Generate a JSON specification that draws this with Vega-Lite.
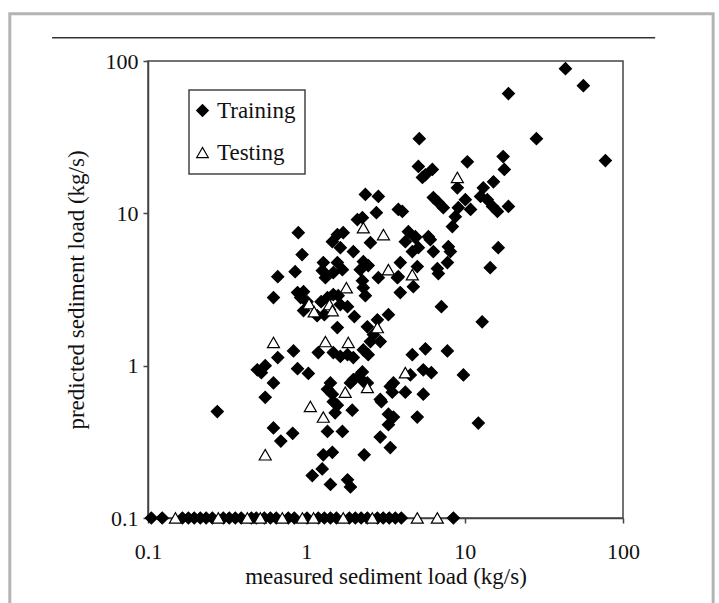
{
  "$schema": "https://vega.github.io/schema/vega-lite/v6.json",
  "autosize": {"type": "none"},
  "width": 475,
  "height": 457,
  "padding": {"left": 148, "top": 61, "right": 96, "bottom": 85},
  "background": "white",
  "config": {
    "view": {"stroke": "#444", "strokeWidth": 1.5},
    "font": "Liberation Serif",
    "axis": {
      "grid": false, "domainColor": "#444", "domainWidth": 1.5, "tickColor": "#444", "tickWidth": 1.5,
      "labelFont": "Liberation Serif", "titleFont": "Liberation Serif", "labelColor": "#111", "titleColor": "#111",
      "labelFontSize": 22, "titleFontSize": 23, "titleFontWeight": "normal"
    },
    "legend": {
      "strokeColor": "#444", "strokeWidth": 1.5, "fillColor": "white", "padding": 9, "rowPadding": 18,
      "labelFont": "Liberation Serif", "labelFontSize": 23, "labelColor": "#111", "labelOffset": 3,
      "symbolOffset": -7,
      "symbolSize": 135, "symbolStrokeColor": "black", "symbolStrokeWidth": 1.2, "symbolOpacity": 1
    }
  },
  "data": {"values": [
    {"x":43.3,"y":89.1,"s":"Training"},{"x":56.2,"y":68.9,"s":"Training"},{"x":18.9,"y":61.1,"s":"Training"},
    {"x":5.17,"y":30.9,"s":"Training"},{"x":28.4,"y":30.9,"s":"Training"},{"x":77.4,"y":22.2,"s":"Training"},
    {"x":10.4,"y":21.8,"s":"Training"},{"x":17.5,"y":23.6,"s":"Training"},{"x":17.8,"y":19.4,"s":"Training"},
    {"x":5.10,"y":20.3,"s":"Training"},{"x":5.65,"y":17.9,"s":"Training"},{"x":6.25,"y":19.4,"s":"Training"},
    {"x":5.41,"y":17.2,"s":"Training"},{"x":8.99,"y":14.7,"s":"Training"},{"x":15.2,"y":16.1,"s":"Training"},
    {"x":13.1,"y":14.7,"s":"Training"},{"x":12.6,"y":12.9,"s":"Training"},{"x":13.9,"y":12.3,"s":"Training"},
    {"x":15.0,"y":11.1,"s":"Training"},{"x":16.1,"y":10.3,"s":"Training"},{"x":18.9,"y":11.1,"s":"Training"},
    {"x":6.34,"y":12.7,"s":"Training"},{"x":6.82,"y":11.8,"s":"Training"},{"x":7.33,"y":10.9,"s":"Training"},
    {"x":10.1,"y":12.3,"s":"Training"},{"x":10.9,"y":10.6,"s":"Training"},{"x":9.12,"y":10.9,"s":"Training"},
    {"x":8.73,"y":9.51,"s":"Training"},{"x":8.36,"y":8.18,"s":"Training"},{"x":4.04,"y":10.3,"s":"Training"},
    {"x":4.41,"y":7.58,"s":"Training"},{"x":4.88,"y":7.03,"s":"Training"},{"x":5.90,"y":7.03,"s":"Training"},
    {"x":2.85,"y":12.9,"s":"Training"},{"x":2.77,"y":10.1,"s":"Training"},{"x":3.81,"y":10.6,"s":"Training"},
    {"x":2.36,"y":13.3,"s":"Training"},{"x":2.10,"y":9.10,"s":"Training"},{"x":2.26,"y":9.37,"s":"Training"},
    {"x":0.89,"y":7.47,"s":"Training"},{"x":1.57,"y":7.25,"s":"Training"},{"x":1.71,"y":7.47,"s":"Training"},
    {"x":1.46,"y":6.52,"s":"Training"},{"x":1.64,"y":5.95,"s":"Training"},{"x":2.54,"y":6.42,"s":"Training"},
    {"x":0.94,"y":5.36,"s":"Training"},{"x":1.98,"y":5.61,"s":"Training"},{"x":2.29,"y":4.82,"s":"Training"},
    {"x":2.46,"y":4.54,"s":"Training"},{"x":2.19,"y":4.27,"s":"Training"},{"x":1.28,"y":4.75,"s":"Training"},
    {"x":1.26,"y":4.21,"s":"Training"},{"x":1.32,"y":3.78,"s":"Training"},{"x":1.57,"y":4.75,"s":"Training"},
    {"x":1.69,"y":4.27,"s":"Training"},{"x":1.48,"y":4.08,"s":"Training"},{"x":0.85,"y":4.14,"s":"Training"},
    {"x":0.66,"y":3.84,"s":"Training"},{"x":2.26,"y":3.61,"s":"Training"},{"x":2.29,"y":3.25,"s":"Training"},
    {"x":2.36,"y":2.88,"s":"Training"},{"x":0.62,"y":2.80,"s":"Training"},{"x":0.88,"y":3.02,"s":"Training"},
    {"x":0.96,"y":3.06,"s":"Training"},{"x":0.92,"y":2.80,"s":"Training"},{"x":1.01,"y":2.63,"s":"Training"},
    {"x":1.24,"y":2.63,"s":"Training"},{"x":1.36,"y":2.80,"s":"Training"},{"x":1.48,"y":2.93,"s":"Training"},
    {"x":1.59,"y":2.88,"s":"Training"},{"x":1.64,"y":2.52,"s":"Training"},{"x":1.82,"y":2.44,"s":"Training"},
    {"x":2.01,"y":2.10,"s":"Training"},{"x":0.96,"y":2.30,"s":"Training"},{"x":1.17,"y":2.13,"s":"Training"},
    {"x":1.30,"y":2.16,"s":"Training"},{"x":1.57,"y":1.78,"s":"Training"},{"x":2.43,"y":1.80,"s":"Training"},
    {"x":2.65,"y":1.60,"s":"Training"},{"x":2.93,"y":1.44,"s":"Training"},{"x":2.54,"y":1.44,"s":"Training"},
    {"x":3.30,"y":2.16,"s":"Training"},{"x":2.81,"y":2.00,"s":"Training"},{"x":3.76,"y":3.78,"s":"Training"},
    {"x":2.85,"y":3.78,"s":"Training"},{"x":0.83,"y":1.25,"s":"Training"},{"x":1.19,"y":1.22,"s":"Training"},
    {"x":1.64,"y":1.15,"s":"Training"},{"x":1.82,"y":1.18,"s":"Training"},{"x":1.98,"y":1.13,"s":"Training"},
    {"x":1.48,"y":1.22,"s":"Training"},{"x":0.66,"y":1.13,"s":"Training"},{"x":0.49,"y":0.94,"s":"Training"},
    {"x":0.55,"y":1.00,"s":"Training"},{"x":0.52,"y":0.90,"s":"Training"},{"x":0.88,"y":0.955,"s":"Training"},
    {"x":1.03,"y":0.89,"s":"Training"},{"x":2.26,"y":0.91,"s":"Training"},{"x":2.13,"y":0.85,"s":"Training"},
    {"x":2.29,"y":1.27,"s":"Training"},{"x":2.46,"y":1.18,"s":"Training"},
    {"x":4.22,"y":6.52,"s":"Training"},{"x":4.88,"y":6.92,"s":"Training"},{"x":4.67,"y":5.61,"s":"Training"},
    {"x":5.10,"y":5.95,"s":"Training"},{"x":6.07,"y":6.72,"s":"Training"},{"x":6.34,"y":5.61,"s":"Training"},
    {"x":7.89,"y":6.04,"s":"Training"},{"x":8.12,"y":5.61,"s":"Training"},{"x":7.78,"y":4.75,"s":"Training"},
    {"x":6.72,"y":4.34,"s":"Training"},{"x":6.82,"y":4.02,"s":"Training"},{"x":5.02,"y":4.47,"s":"Training"},
    {"x":3.92,"y":4.75,"s":"Training"},{"x":3.81,"y":3.84,"s":"Training"},{"x":3.92,"y":3.02,"s":"Training"},
    {"x":4.74,"y":3.30,"s":"Training"},{"x":16.3,"y":5.95,"s":"Training"},{"x":14.5,"y":4.40,"s":"Training"},
    {"x":7.13,"y":2.44,"s":"Training"},{"x":12.9,"y":1.94,"s":"Training"},{"x":5.65,"y":1.29,"s":"Training"},
    {"x":7.78,"y":1.25,"s":"Training"},{"x":4.67,"y":1.18,"s":"Training"},
    {"x":0.274,"y":0.50,"s":"Training"},{"x":0.62,"y":0.77,"s":"Training"},{"x":0.55,"y":0.62,"s":"Training"},
    {"x":1.42,"y":0.77,"s":"Training"},{"x":1.36,"y":0.70,"s":"Training"},{"x":1.46,"y":0.65,"s":"Training"},
    {"x":1.48,"y":0.58,"s":"Training"},{"x":1.57,"y":0.55,"s":"Training"},{"x":1.52,"y":0.49,"s":"Training"},
    {"x":1.95,"y":0.51,"s":"Training"},{"x":1.98,"y":0.81,"s":"Training"},{"x":2.29,"y":0.79,"s":"Training"},
    {"x":2.43,"y":0.77,"s":"Training"},{"x":1.90,"y":0.77,"s":"Training"},{"x":2.93,"y":0.60,"s":"Training"},
    {"x":3.39,"y":0.73,"s":"Training"},{"x":3.55,"y":0.77,"s":"Training"},{"x":3.49,"y":0.67,"s":"Training"},
    {"x":4.54,"y":0.87,"s":"Training"},{"x":4.22,"y":0.67,"s":"Training"},{"x":5.48,"y":0.94,"s":"Training"},
    {"x":6.16,"y":0.90,"s":"Training"},{"x":5.48,"y":0.65,"s":"Training"},{"x":9.82,"y":0.87,"s":"Training"},
    {"x":3.30,"y":0.48,"s":"Training"},{"x":3.55,"y":0.46,"s":"Training"},{"x":3.30,"y":0.41,"s":"Training"},
    {"x":5.02,"y":0.46,"s":"Training"},{"x":12.2,"y":0.42,"s":"Training"},{"x":2.93,"y":0.34,"s":"Training"},
    {"x":3.39,"y":0.29,"s":"Training"},{"x":0.62,"y":0.39,"s":"Training"},{"x":0.69,"y":0.32,"s":"Training"},
    {"x":0.82,"y":0.36,"s":"Training"},{"x":1.36,"y":0.37,"s":"Training"},{"x":1.69,"y":0.37,"s":"Training"},
    {"x":1.28,"y":0.26,"s":"Training"},{"x":1.46,"y":0.27,"s":"Training"},{"x":2.32,"y":0.26,"s":"Training"},
    {"x":1.26,"y":0.21,"s":"Training"},{"x":1.09,"y":0.19,"s":"Training"},{"x":1.42,"y":0.166,"s":"Training"},
    {"x":1.82,"y":0.178,"s":"Training"},{"x":1.90,"y":0.16,"s":"Training"},{"x":2.98,"y":0.58,"s":"Training"},
    {"x":0.105,"y":0.1,"s":"Training"},{"x":0.123,"y":0.1,"s":"Training"},{"x":0.165,"y":0.1,"s":"Training"},
    {"x":0.180,"y":0.1,"s":"Training"},{"x":0.196,"y":0.1,"s":"Training"},{"x":0.214,"y":0.1,"s":"Training"},
    {"x":0.233,"y":0.1,"s":"Training"},{"x":0.255,"y":0.1,"s":"Training"},{"x":0.299,"y":0.1,"s":"Training"},
    {"x":0.326,"y":0.1,"s":"Training"},{"x":0.356,"y":0.1,"s":"Training"},{"x":0.388,"y":0.1,"s":"Training"},
    {"x":0.450,"y":0.1,"s":"Training"},{"x":0.483,"y":0.1,"s":"Training"},{"x":0.543,"y":0.1,"s":"Training"},
    {"x":0.593,"y":0.1,"s":"Training"},{"x":0.646,"y":0.1,"s":"Training"},{"x":0.769,"y":0.1,"s":"Training"},
    {"x":0.840,"y":0.1,"s":"Training"},{"x":1.01,"y":0.1,"s":"Training"},{"x":1.19,"y":0.1,"s":"Training"},
    {"x":1.30,"y":0.1,"s":"Training"},{"x":1.42,"y":0.1,"s":"Training"},{"x":1.55,"y":0.1,"s":"Training"},
    {"x":1.87,"y":0.1,"s":"Training"},{"x":2.04,"y":0.1,"s":"Training"},{"x":2.22,"y":0.1,"s":"Training"},
    {"x":2.43,"y":0.1,"s":"Training"},{"x":2.81,"y":0.1,"s":"Training"},{"x":3.06,"y":0.1,"s":"Training"},
    {"x":3.34,"y":0.1,"s":"Training"},{"x":3.65,"y":0.1,"s":"Training"},{"x":3.98,"y":0.1,"s":"Training"},
    {"x":8.49,"y":0.1,"s":"Training"},
    {"x":8.99,"y":17.2,"s":"Testing"},{"x":3.07,"y":7.25,"s":"Testing"},{"x":2.29,"y":8.05,"s":"Testing"},
    {"x":1.79,"y":3.25,"s":"Testing"},{"x":1.04,"y":2.55,"s":"Testing"},{"x":1.12,"y":2.26,"s":"Testing"},
    {"x":1.40,"y":2.52,"s":"Testing"},{"x":1.46,"y":2.30,"s":"Testing"},{"x":2.81,"y":1.78,"s":"Testing"},
    {"x":3.30,"y":4.27,"s":"Testing"},{"x":0.62,"y":1.42,"s":"Testing"},{"x":1.32,"y":1.44,"s":"Testing"},
    {"x":1.84,"y":1.42,"s":"Testing"},{"x":4.67,"y":3.96,"s":"Testing"},{"x":1.06,"y":0.54,"s":"Testing"},
    {"x":1.28,"y":0.46,"s":"Testing"},{"x":1.76,"y":0.67,"s":"Testing"},{"x":2.43,"y":0.72,"s":"Testing"},
    {"x":4.22,"y":0.90,"s":"Testing"},{"x":0.55,"y":0.26,"s":"Testing"},
    {"x":0.149,"y":0.1,"s":"Testing"},{"x":0.278,"y":0.1,"s":"Testing"},{"x":0.424,"y":0.1,"s":"Testing"},
    {"x":0.512,"y":0.1,"s":"Testing"},{"x":0.705,"y":0.1,"s":"Testing"},{"x":0.944,"y":0.1,"s":"Testing"},
    {"x":1.11,"y":0.1,"s":"Testing"},{"x":1.71,"y":0.1,"s":"Testing"},{"x":2.61,"y":0.1,"s":"Testing"},
    {"x":5.02,"y":0.1,"s":"Testing"},{"x":6.72,"y":0.1,"s":"Testing"}
  ]},
  "layer": [
    {
      "mark": {"type": "point", "filled": true, "stroke": "black", "strokeWidth": 1.2, "opacity": 1, "size": 145},
      "encoding": {
        "x": {"field": "x", "type": "quantitative",
          "scale": {"type": "log", "domain": [0.1, 100], "nice": false},
          "axis": {"values": [0.1, 1, 10, 100], "format": "~g", "title": "measured sediment load (kg/s)",
            "tickSize": 5, "labelPadding": 18, "titlePadding": 3, "labelFlush": false}},
        "y": {"field": "y", "type": "quantitative",
          "scale": {"type": "log", "domain": [0.1, 100], "nice": false},
          "axis": {"values": [0.1, 1, 10, 100], "format": "~g", "title": "predicted sediment load (kg/s)",
            "tickSize": 5, "labelPadding": 5, "titlePadding": 17, "labelFlush": false}},
        "shape": {"field": "s", "type": "nominal",
          "scale": {"domain": ["Training", "Testing"], "range": ["diamond", "triangle-up"]},
          "legend": {"title": null, "orient": "none", "legendX": 41, "legendY": 29,
            "encode": {"symbols": {"update": {"stroke": {"value": "black"}, "strokeWidth": {"value": 1.2}, "opacity": {"value": 1}}}}}},
        "fill": {"field": "s", "type": "nominal",
          "scale": {"domain": ["Training", "Testing"], "range": ["black", "white"]},
          "legend": {"title": null, "orient": "none", "legendX": 41, "legendY": 29,
            "encode": {"symbols": {"update": {"stroke": {"value": "black"}, "strokeWidth": {"value": 1.2}, "opacity": {"value": 1}}}}}}
      }
    },
    {
      "data": {"values": [{}]},
      "mark": {"type": "rect", "fillOpacity": 0, "stroke": "#b4b4b4", "strokeWidth": 3},
      "encoding": {
        "x": {"datum": 0.0134, "type": "quantitative", "scale": {"type": "log", "domain": [0.1, 100], "nice": false}},
        "x2": {"datum": 371},
        "y": {"datum": 204, "type": "quantitative", "scale": {"type": "log", "domain": [0.1, 100], "nice": false}},
        "y2": {"datum": 0.02}
      }
    },
    {
      "data": {"values": [{}]},
      "mark": {"type": "rule", "stroke": "#333", "strokeWidth": 1.5},
      "encoding": {
        "x": {"datum": 0.0248, "type": "quantitative", "scale": {"type": "log", "domain": [0.1, 100], "nice": false}},
        "x2": {"datum": 159.6},
        "y": {"datum": 142, "type": "quantitative", "scale": {"type": "log", "domain": [0.1, 100], "nice": false}}
      }
    }
  ]
}
